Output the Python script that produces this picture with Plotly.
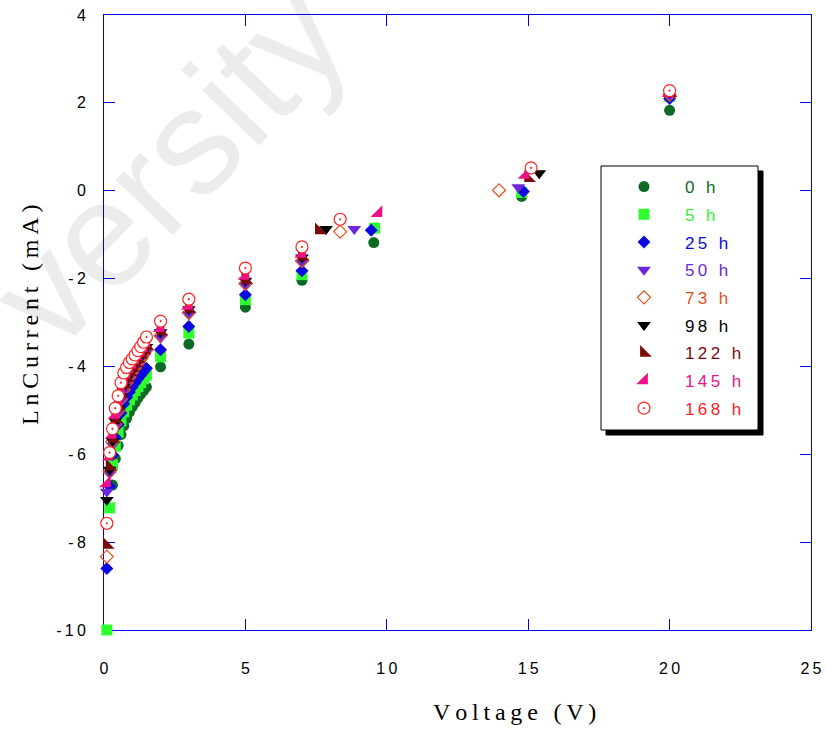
import plotly.graph_objects as go

# ---------------------------------------------------------------------------
# Data: ln(current, mA) versus applied voltage for each ageing time
# ---------------------------------------------------------------------------
hours = ["0", "5", "25", "50", "73", "98", "122", "145", "168"]

v_0h = [0.3, 0.4, 0.5, 0.6, 0.7, 0.8, 0.9, 1.0, 1.1, 1.2, 1.3, 1.4, 1.5,
        2, 3, 5, 7, 9.54, 14.77, 20]
ln_0h = [-6.70, -6.10, -5.80, -5.55, -5.35, -5.18, -5.04, -4.92, -4.82, -4.72,
         -4.63, -4.55, -4.47, -4.01, -3.49, -2.65, -2.04, -1.18, -0.13, 1.83]

v_5h = [0.1, 0.2, 0.3, 0.4, 0.5, 0.6, 0.7, 0.8, 0.9, 1.0, 1.1, 1.2, 1.3, 1.4, 1.5,
        2, 3, 5, 7, 9.57, 14.77, 20]
ln_5h = [-10.0, -7.22, -6.24, -5.82, -5.50, -5.24, -5.03, -4.88, -4.76, -4.65,
         -4.55, -4.46, -4.37, -4.28, -4.20, -3.78, -3.24, -2.48, -1.91, -0.85,
         -0.04, 2.15]

v_25h = [0.1, 0.2, 0.3, 0.4, 0.5, 0.6, 0.7, 0.8, 0.9, 1.0, 1.1, 1.2, 1.3, 1.4, 1.5,
         2, 3, 5, 7, 9.45, 14.83, 20]
ln_25h = [-8.60, -6.73, -6.01, -5.62, -5.32, -5.06, -4.85, -4.70, -4.58, -4.47,
          -4.37, -4.28, -4.20, -4.12, -4.04, -3.62, -3.09, -2.37, -1.82, -0.90,
          -0.02, 2.10]

v_50h = [0.1, 0.2, 0.3, 0.4, 0.5, 0.6, 0.7, 0.8, 0.9, 1.0, 1.1, 1.2, 1.3, 1.4, 1.5,
         2, 3, 5, 7, 8.85, 14.65, 20]
ln_50h = [-6.85, -6.43, -5.80, -5.38, -5.08, -4.80, -4.58, -4.42, -4.29, -4.18,
          -4.08, -3.98, -3.88, -3.78, -3.68, -3.35, -2.82, -2.15, -1.64, -0.87,
          0.08, 2.15]

v_73h = [0.1, 0.2, 0.3, 0.4, 0.5, 0.6, 0.7, 0.8, 0.9, 1.0, 1.1, 1.2, 1.3, 1.4, 1.5,
         2, 3, 5, 7, 8.35, 13.97, 20]
ln_73h = [-8.33, -6.40, -5.71, -5.32, -5.02, -4.75, -4.53, -4.37, -4.24, -4.13,
          -4.03, -3.93, -3.83, -3.73, -3.63, -3.30, -2.78, -2.12, -1.60, -0.93,
          0.01, 2.18]

v_98h = [0.1, 0.2, 0.3, 0.4, 0.5, 0.6, 0.7, 0.8, 0.9, 1.0, 1.1, 1.2, 1.3, 1.4, 1.5,
         2, 3, 5, 7, 7.85, 15.39, 20]
ln_98h = [-7.04, -6.35, -5.70, -5.25, -4.95, -4.68, -4.46, -4.30, -4.17, -4.06,
          -3.96, -3.86, -3.76, -3.66, -3.56, -3.22, -2.70, -2.05, -1.52, -0.87,
          0.40, 2.24]

v_122h = [0.1, 0.2, 0.3, 0.4, 0.5, 0.6, 0.7, 0.8, 0.9, 1.0, 1.1, 1.2, 1.3, 1.4, 1.5,
          2, 3, 5, 7, 7.6, 15.0, 20]
ln_122h = [-8.06, -6.28, -5.65, -5.20, -4.90, -4.63, -4.41, -4.26, -4.13, -4.03,
           -3.93, -3.83, -3.73, -3.63, -3.53, -3.20, -2.69, -2.03, -1.50, -0.90,
           0.29, 2.22]

v_145h = [0.1, 0.2, 0.3, 0.4, 0.5, 0.6, 0.7, 0.8, 0.9, 1.0, 1.1, 1.2, 1.3, 1.4, 1.5,
          2, 3, 5, 7, 9.7, 14.9, 20]
ln_145h = [-6.66, -6.05, -5.55, -5.10, -4.82, -4.55, -4.33, -4.18, -4.06, -3.96,
           -3.86, -3.76, -3.67, -3.58, -3.47, -3.13, -2.62, -1.94, -1.44, -0.51,
           0.36, 2.22]

v_168h = [0.1, 0.2, 0.3, 0.4, 0.5, 0.6, 0.7, 0.8, 0.9, 1.0, 1.1, 1.2, 1.3, 1.4, 1.5,
          2, 3, 5, 7, 8.35, 15.1, 20]
ln_168h = [-7.57, -5.96, -5.42, -4.95, -4.67, -4.37, -4.15, -4.02, -3.91, -3.83,
           -3.74, -3.64, -3.55, -3.45, -3.33, -2.97, -2.47, -1.76, -1.28, -0.65,
           0.52, 2.28]

voltages = [v_0h, v_5h, v_25h, v_50h, v_73h, v_98h, v_122h, v_145h, v_168h]
currents = [ln_0h, ln_5h, ln_25h, ln_50h, ln_73h, ln_98h, ln_122h, ln_145h, ln_168h]

x_ticks = [0, 5, 10, 15, 20, 25]
y_ticks = [-10, -8, -6, -4, -2, 0, 2, 4]

# ---------------------------------------------------------------------------
# Styling
# ---------------------------------------------------------------------------
colors = ["#0b6b23", "#2cff2c", "#0a0ae0", "#6e26da", "#e2521e",
          "#000000", "#7a0a0a", "#ee1188", "#ff2222"]
text_colors = ["#0b6b23", "#3cee3c", "#0a0ae0", "#6e26da", "#e2521e",
               "#000000", "#7a0a0a", "#ee1188", "#ff2222"]
symbols = ["circle", "square", "diamond", "triangle-down", "diamond-open",
           "triangle-down", "triangle-sw", "triangle-se", "circle-dot"]
sizes = [11, 11, 10, 12, 10, 12, 13, 13, 12]

AXIS_BLUE = "#0000ee"
SANS = "Liberation Sans, Arial, sans-serif"
SERIF = "Liberation Serif, Times New Roman, serif"
THIN = "\u2009"

W, H = 826, 730
L, R, T, B = 104, 15, 15, 100
PW, PH = W - L - R, H - T - B


def spaced(s):
    """Letter-spaced label text."""
    return THIN.join(s)


def px_x(px):
    return (px - L) / PW


def px_y(py):
    return (H - B - py) / PH


fig = go.Figure()

for i, h in enumerate(hours):
    fill = "white" if symbols[i] == "circle-dot" else colors[i]
    line_w = 1.2 if symbols[i] in ("circle-dot", "diamond-open") else 0
    label = f'<span style="color:{text_colors[i]}">{spaced(h)}{THIN} {THIN}h</span>'
    fig.add_trace(go.Scatter(
        x=voltages[i], y=currents[i], mode="markers", name=label,
        legendgroup=h, cliponaxis=False,
        marker=dict(symbol=symbols[i], size=sizes[i], color=fill,
                    line=dict(color=colors[i], width=line_w)),
    ))

axis_common = dict(
    showline=True, linecolor=AXIS_BLUE, linewidth=1, mirror="ticks",
    ticks="inside", ticklen=11, tickcolor=AXIS_BLUE, tickwidth=1,
    showgrid=False, zeroline=False, layer="below traces", automargin=False,
    tickfont=dict(family=SANS, size=16, color="black"),
)

fig.update_xaxes(range=[0, 25], tickvals=x_ticks,
                 ticktext=[spaced(str(v)) for v in x_ticks],
                 ticklabelstandoff=24, **axis_common)
fig.update_yaxes(range=[-10, 4], tickvals=y_ticks,
                 ticktext=[spaced(str(v)) for v in y_ticks],
                 ticklabelstandoff=14, **axis_common)

# legend frame with a drop shadow
box = (601, 166, 758, 430)
shadow = 5
fig.add_shape(type="rect", xref="paper", yref="paper", layer="above",
              x0=px_x(box[0] + shadow), x1=px_x(box[2] + shadow),
              y0=px_y(box[1] + shadow), y1=px_y(box[3] + shadow),
              fillcolor="black", line=dict(color="black", width=1))
fig.add_shape(type="rect", xref="paper", yref="paper", layer="above",
              x0=px_x(box[0]), x1=px_x(box[2]),
              y0=px_y(box[1]), y1=px_y(box[3]),
              fillcolor="white", line=dict(color="black", width=1))

fig.update_layout(
    width=W, height=H,
    margin=dict(l=L, r=R, t=T, b=B),
    paper_bgcolor="white", plot_bgcolor="white",
    showlegend=True,
    legend=dict(
        x=px_x(603), y=px_y(169), xanchor="left", yanchor="top",
        bgcolor="rgba(0,0,0,0)", borderwidth=0,
        traceorder="grouped", tracegroupgap=2.6, itemwidth=72,
        font=dict(family=SANS, size=17),
    ),
    annotations=[
        # faint watermark
        dict(text="versity", xref="paper", yref="paper",
             x=px_x(168), y=px_y(165), xanchor="center", yanchor="middle",
             textangle=-46, showarrow=False,
             font=dict(family=SANS, size=150, color="rgba(0,0,0,0.075)")),
        dict(text=spaced("LnCurrent (mA)"), xref="paper", yref="paper",
             x=px_x(30), y=px_y(315), xanchor="center", yanchor="middle",
             textangle=-90, showarrow=False,
             font=dict(family=SERIF, size=24, color="black")),
        dict(text=spaced("Voltage (V)"), xref="paper", yref="paper",
             x=px_x(514), y=px_y(712), xanchor="center", yanchor="middle",
             showarrow=False,
             font=dict(family=SERIF, size=24, color="black")),
    ],
)

fig.write_html("out.html")
